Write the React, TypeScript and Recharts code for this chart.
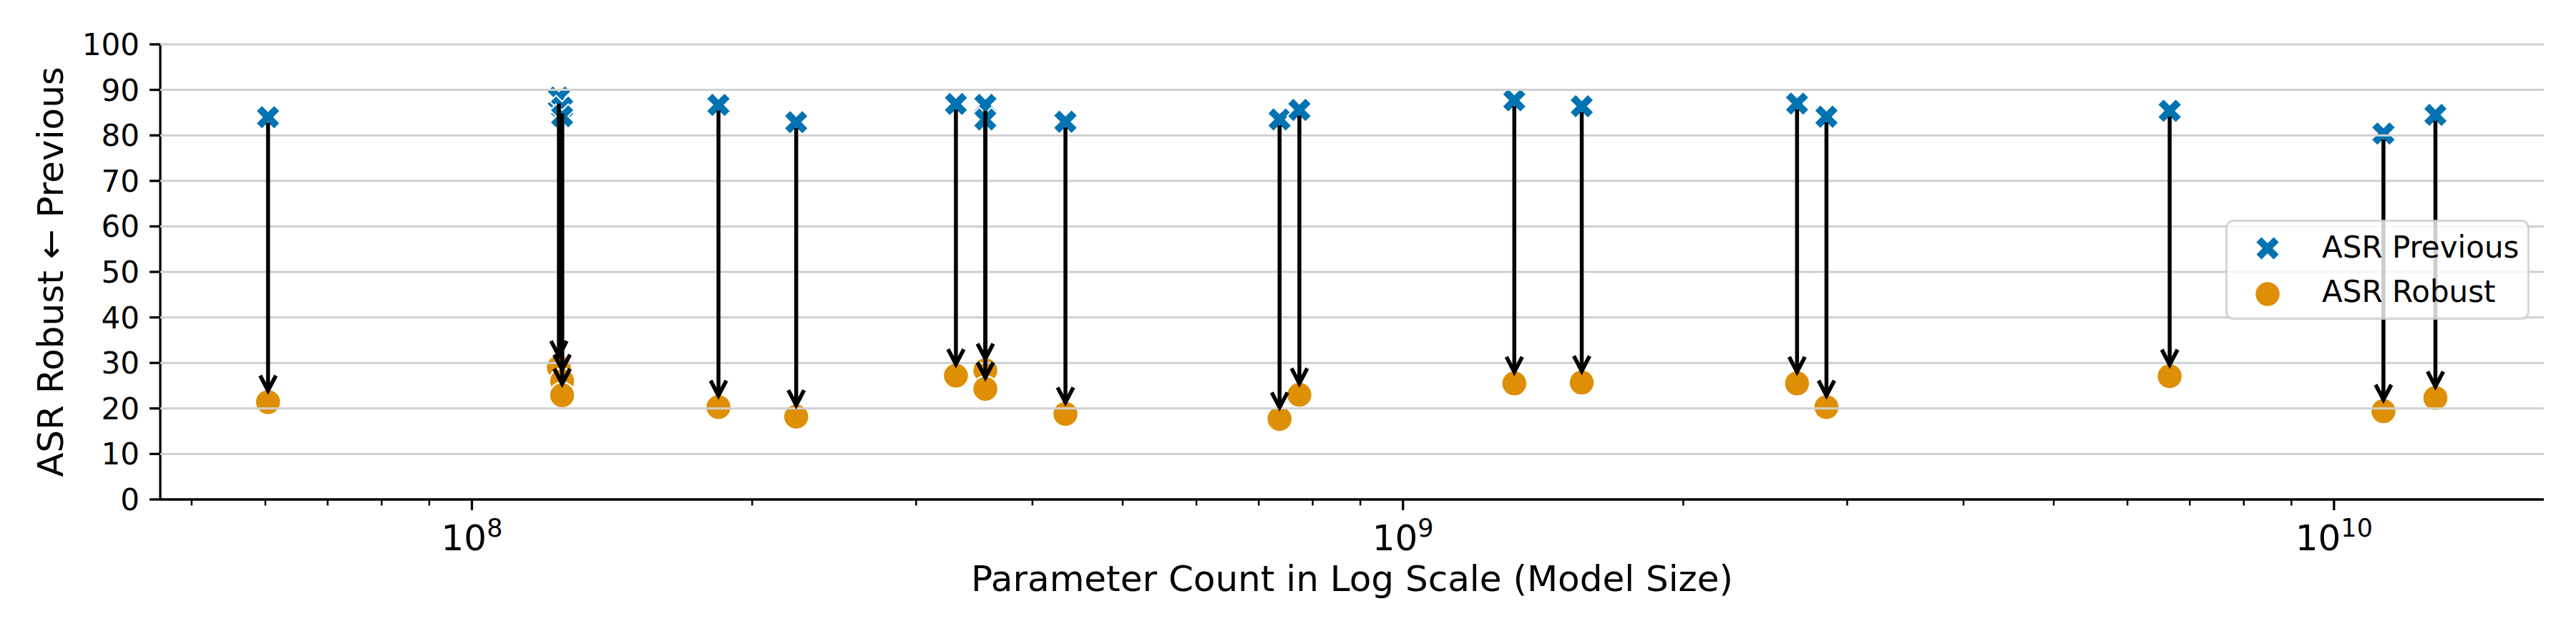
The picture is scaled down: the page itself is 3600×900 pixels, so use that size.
import { ScatterChart, Scatter, XAxis, YAxis, ReferenceLine, Legend } from 'recharts';

const FONT = "'DejaVu Sans', sans-serif";
const BLUE = '#0173b2';
const ORANGE = '#de8f05';

// model size (parameter count) and attack success rates
const paramCounts = [
  6.04e7, 1.24e8, 1.25e8, 1.25e8, 1.84e8, 2.23e8, 3.31e8, 3.56e8, 3.56e8, 4.34e8,
  7.37e8, 7.74e8, 1.317e9, 1.556e9, 2.65e9, 2.85e9, 6.66e9, 1.13e10, 1.285e10,
];
const asrPrevious = [
  84.0, 88.3, 86.1, 84.2, 86.7, 82.9, 86.9, 86.7, 83.5, 83.0,
  83.5, 85.6, 87.7, 86.4, 87.0, 84.1, 85.4, 80.4, 84.5,
];
const asrRobust = [
  21.4, 29.0, 26.0, 22.9, 20.3, 18.2, 27.2, 28.4, 24.3, 18.8,
  17.7, 23.0, 25.5, 25.7, 25.5, 20.3, 27.1, 19.4, 22.3,
];

const majorTicks = [1e8, 1e9, 1e10];
const minorTicks = [
  5e7, 6e7, 7e7, 8e7, 9e7,
  2e8, 3e8, 4e8, 5e8, 6e8, 7e8, 8e8, 9e8,
  2e9, 3e9, 4e9, 5e9, 6e9, 7e9, 8e9, 9e9,
];
const yTicks = [0, 10, 20, 30, 40, 50, 60, 70, 80, 90, 100];

const prevPoints = paramCounts.map((p, i) => ({ x: p, y: asrPrevious[i] }));
const robustPoints = paramCounts.map((p, i) => ({ x: p, y: asrRobust[i] }));

// matplotlib's filled "X" marker outline
const X_PTS = [
  [0.25, 0], [0.5, 0.25], [0.25, 0.5], [0, 0.25], [-0.25, 0.5], [-0.5, 0.25],
  [-0.25, 0], [-0.5, -0.25], [-0.25, -0.5], [0, -0.25], [0.25, -0.5], [0.5, -0.25],
];

function Cross({ cx, cy, s = 34 }: any) {
  const pts = X_PTS.map(([a, b]) => `${cx + a * s},${cy - b * s}`).join(' ');
  return <polygon points={pts} fill={BLUE} stroke="#fff" strokeWidth={2} />;
}

function Dot({ cx, cy }: any) {
  return <circle cx={cx} cy={cy} r={18} fill={ORANGE} stroke="#fff" strokeWidth={2.5} />;
}

function Arrow({ x1, y1, x2, y2 }: any) {
  if ([x1, y1, x2, y2].some((v) => typeof v !== 'number' || isNaN(v))) return null;
  const dir = y2 > y1 ? 1 : -1;
  const start = y1 + dir * 8;
  const tip = y2 - dir * 16;
  return (
    <g>
      <line x1={x1} x2={x1} y1={start} y2={tip} stroke="#000" strokeWidth={5.5} />
      <polyline
        points={`${x1 - 11},${tip - dir * 21} ${x1},${tip} ${x1 + 11},${tip - dir * 21}`}
        fill="none"
        stroke="#000"
        strokeWidth={5.5}
      />
    </g>
  );
}

function LogTick({ x, y, payload }: any) {
  const v = payload.value;
  const major = majorTicks.includes(v);
  const exp = Math.round(Math.log10(v));
  return (
    <g>
      <line x1={x} x2={x} y1={y} y2={y + (major ? 15 : 8.5)} stroke="#000" strokeWidth={major ? 3.3 : 2.5} />
      {major && (
        <text x={x} y={y + 71} textAnchor="middle" fontSize={50} fontFamily={FONT} fill="#000">
          10
          <tspan fontSize={35} dy={-19}>{exp}</tspan>
        </text>
      )}
    </g>
  );
}

function XLabel(props: any) {
  const vb = props.viewBox || { x: 224, y: 698, width: 3331, height: 202 };
  return (
    <text x={vb.x + vb.width / 2} y={vb.y + 128} textAnchor="middle" fontSize={50} fontFamily={FONT} fill="#000">
      Parameter Count in Log Scale (Model Size)
    </text>
  );
}

function YLabel(props: any) {
  const vb = props.viewBox || { x: 0, y: 62, width: 224, height: 636 };
  const cx = vb.x + 88;
  const cy = vb.y + vb.height / 2;
  return (
    <text x={cx} y={cy} transform={`rotate(-90, ${cx}, ${cy})`} textAnchor="middle" fontSize={50} fontFamily={FONT} fill="#000">
      ASR Robust ← Previous
    </text>
  );
}

function LegendBox() {
  return (
    <svg width={425} height={140} style={{ display: 'block' }}>
      <rect x={1.5} y={1.5} width={422} height={137} rx={10} fill="#fff" fillOpacity={0.8} stroke="#cccccc" strokeOpacity={0.8} strokeWidth={3} />
      <Cross cx={59} cy={40} s={34} />
      <Dot cx={59} cy={104} />
      <text x={135} y={53} fontSize={42} fontFamily={FONT} fill="#000">ASR Previous</text>
      <text x={135} y={115} fontSize={42} fontFamily={FONT} fill="#000">ASR Robust</text>
    </svg>
  );
}

export default function App() {
  return (
    <div style={{ position: 'absolute', left: 0, top: 0, width: 3600, height: 900, background: '#fff', fontFamily: FONT }}>
      <ScatterChart width={3600} height={900} margin={{ top: 62, right: 45, left: 0, bottom: 0 }}>
        <XAxis
          type="number"
          dataKey="x"
          scale="log"
          domain={[4.627e7, 1.68e10]}
          allowDataOverflow
          ticks={[...minorTicks, ...majorTicks].sort((a, b) => a - b)}
          interval={0}
          tick={<LogTick />}
          tickLine={false}
          tickSize={0}
          tickMargin={0}
          axisLine={{ stroke: '#000', strokeWidth: 3.3 }}
          height={202}
          label={{ content: XLabel }}
        />
        <YAxis
          type="number"
          dataKey="y"
          domain={[0, 100]}
          ticks={yTicks}
          interval={0}
          width={224}
          tickSize={15}
          tickMargin={14}
          tick={{ fontSize: 42, fill: '#000', fontFamily: FONT }}
          tickLine={{ stroke: '#000', strokeWidth: 3.3 }}
          axisLine={{ stroke: '#000', strokeWidth: 3.3 }}
          label={{ content: YLabel }}
        />
        <Scatter name="ASR Previous" data={prevPoints} shape={Cross} isAnimationActive={false} zIndex={600} />
        <Scatter name="ASR Robust" data={robustPoints} shape={Dot} isAnimationActive={false} zIndex={600} />
        {/* grid sits above the markers in the original, arrows above the grid */}
        {yTicks.filter((v) => v > 0).map((v) => (
          <ReferenceLine key={`g${v}`} y={v} stroke="#d0d0d0" strokeWidth={3} zIndex={650} />
        ))}
        {paramCounts.map((p, i) => (
          <ReferenceLine
            key={`a${i}`}
            segment={[{ x: p, y: asrPrevious[i] }, { x: p, y: asrRobust[i] }]}
            shape={Arrow}
            zIndex={700}
          />
        ))}
        <Legend
          layout="vertical"
          align="center"
          verticalAlign="middle"
          wrapperStyle={{ left: 3110, top: 307, width: 425, height: 140 }}
          content={() => <LegendBox />}
        />
      </ScatterChart>
    </div>
  );
}
